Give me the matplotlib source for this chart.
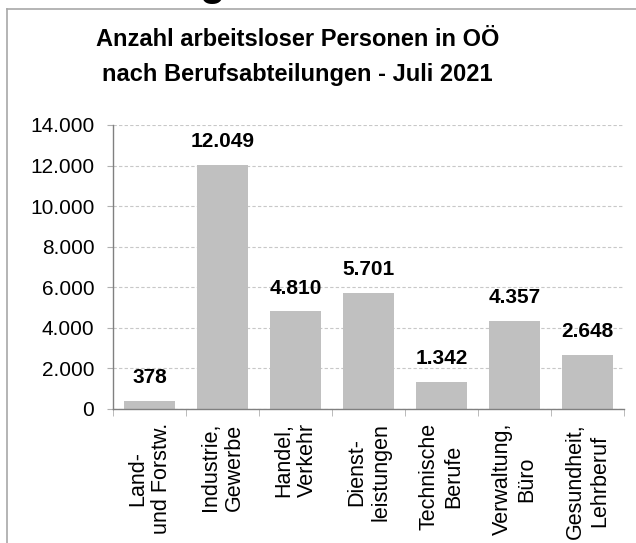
import matplotlib.pyplot as plt
import numpy as np
from matplotlib.lines import Line2D
from matplotlib.ticker import FuncFormatter

plt.rcParams['font.family'] = ['Liberation Sans', 'DejaVu Sans']

categories = ['Land-\nund Forstw.', 'Industrie,\nGewerbe', 'Handel,\nVerkehr',
              'Dienst-\nleistungen', 'Technische\nBerufe', 'Verwaltung,\nBüro',
              'Gesundheit,\nLehrberuf']
values = [378, 12049, 4810, 5701, 1342, 4357, 2648]
yticks = [0, 2000, 4000, 6000, 8000, 10000, 12000, 14000]


def de_fmt(v, pos=None):
    return f'{int(v):,}'.replace(',', '.')


fig = plt.figure(figsize=(6.36, 5.43), dpi=100)
ax = fig.add_axes([0.1777, 0.2468, 0.8033, 0.523])

x = np.arange(len(values))
bars = ax.bar(x, values, width=0.7, color='#c0c0c0', zorder=2)

for b, v in zip(bars, values):
    ax.annotate(de_fmt(v), (b.get_x() + b.get_width() / 2, v),
                xytext=(0, 10), textcoords='offset points',
                ha='center', va='bottom', fontsize=15, fontweight='bold')

ax.set_xlim(-0.5, len(values) - 0.5)
ax.set_ylim(0, 14000)
ax.set_yticks(yticks)
ax.yaxis.set_major_formatter(FuncFormatter(de_fmt))
ax.grid(axis='y', linestyle=(0, (3, 2)), color='#c8c8c8', linewidth=0.8, zorder=0)

ax.set_xticks(x)
ax.set_xticklabels(categories, rotation=90, ha='center', va='top',
                   multialignment='center', fontsize=15.5)
ax.set_xticks(np.arange(len(values) + 1) - 0.5, minor=True)
ax.tick_params(axis='x', which='major', length=0, pad=10)
ax.tick_params(axis='x', which='minor', length=5, color='#b0b0b0')
ax.tick_params(axis='y', length=4.5, color='#b0b0b0', pad=9, labelsize=15)

for s in ['top', 'right']:
    ax.spines[s].set_visible(False)
for s in ['left', 'bottom']:
    ax.spines[s].set_color('#808080')
    ax.spines[s].set_linewidth(1)

fig.text(0.468, 1 - 46 / 543, 'Anzahl arbeitsloser Personen in OÖ', ha='center',
         va='baseline', fontsize=17, fontweight='bold')
fig.text(0.468, 1 - 81 / 543, 'nach Berufsabteilungen - Juli 2021', ha='center',
         va='baseline', fontsize=17, fontweight='bold')

# cut-off heading above the frame
fig.text(0.333, 1 + 5 / 543, 'g', ha='center', va='baseline', fontsize=30,
         fontweight='bold')

# frame of the chart object
fig.add_artist(Line2D([7 / 636, 7 / 636], [0, 1 - 9 / 543], color='#a8a8a8', lw=1.2))
fig.add_artist(Line2D([7 / 636, 1], [1 - 9 / 543, 1 - 9 / 543], color='#a8a8a8', lw=1.2))

fig.savefig('out.png', dpi=100)
